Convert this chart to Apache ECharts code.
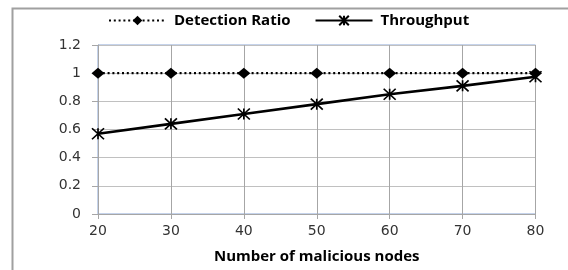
<!DOCTYPE html>
<html><head><meta charset="utf-8">
<script src="https://cdn.jsdelivr.net/npm/echarts@6/dist/echarts.min.js"></script>
<style>html,body{margin:0;padding:0;background:#fff}#c{width:568px;height:270px}</style>
</head><body><div id="c"></div>
<script>
const nodes = [20, 30, 40, 50, 60, 70, 80];
const detectionRatio = [1, 1, 1, 1, 1, 1, 1];
const throughput = [0.57, 0.64, 0.71, 0.78, 0.85, 0.91, 0.975];
const yTicks = [0, 0.2, 0.4, 0.6, 0.8, 1, 1.2];
const seriesNames = ['Detection Ratio', 'Throughput'];
const xTitle = 'Number of malicious nodes';

const pair = (vals) => nodes.map((x, i) => [x, vals[i]]);
const chart = echarts.init(document.getElementById('c'), null, {renderer: 'canvas'});
const grey = '#a6a6a6';
const boldFont = {fontFamily: 'Open Sans', fontWeight: 'bold', fontSize: 15, color: '#000'};
chart.setOption({
  animation: false,
  backgroundColor: '#fff',
  graphic: [{
    type: 'rect', left: 10, top: 6, z: -10,
    shape: {x: 0, y: 0, width: 600, height: 300},
    style: {fill: 'none', stroke: '#a0a0a0', lineWidth: 2}
  }],
  legend: {
    left: 103, top: 8, itemWidth: 57, itemHeight: 12, itemGap: 24,
    textStyle: Object.assign({padding: [0, 0, 0, 3]}, boldFont),
    data: seriesNames
  },
  grid: {left: 98, right: 32.5, top: 45, bottom: 56, show: true, borderColor: '#8aa6d6', borderWidth: 1},
  xAxis: {
    type: 'value', min: 20, max: 80, interval: 10,
    name: xTitle, nameLocation: 'middle', nameGap: 35,
    nameTextStyle: boldFont,
    axisLine: {show: true, lineStyle: {color: grey}},
    axisTick: {show: true, length: 5, lineStyle: {color: grey}},
    axisLabel: {fontFamily: 'DejaVu Sans', fontSize: 14, color: '#333', margin: 10},
    splitLine: {show: true, lineStyle: {color: grey}}
  },
  yAxis: {
    type: 'value', min: 0, max: 1.2, interval: 0.2,
    axisLine: {show: true, lineStyle: {color: grey}},
    axisTick: {show: true, length: 6, lineStyle: {color: grey}},
    axisLabel: {fontFamily: 'DejaVu Sans', fontSize: 14, color: '#333', margin: 17,
      formatter: (v) => String(+v.toFixed(1))},
    splitLine: {show: true, lineStyle: {color: '#c0c0c0'}}
  },
  series: [{
    name: seriesNames[0], type: 'line', data: pair(detectionRatio),
    symbol: 'diamond', symbolSize: [13, 11],
    itemStyle: {color: '#000'},
    lineStyle: {color: '#000', width: 2.2, type: [2, 2.8]}, z: 3
  }, {
    name: seriesNames[1], type: 'line', data: pair(throughput),
    symbol: 'path://M-1,-1L1,1M1,-1L-1,1M0,-1L0,1', symbolSize: [12, 11],
    itemStyle: {color: 'rgba(0,0,0,0)', borderColor: '#000', borderWidth: 1.6},
    lineStyle: {color: '#000', width: 2.6}, z: 2
  }]
});
</script></body></html>
